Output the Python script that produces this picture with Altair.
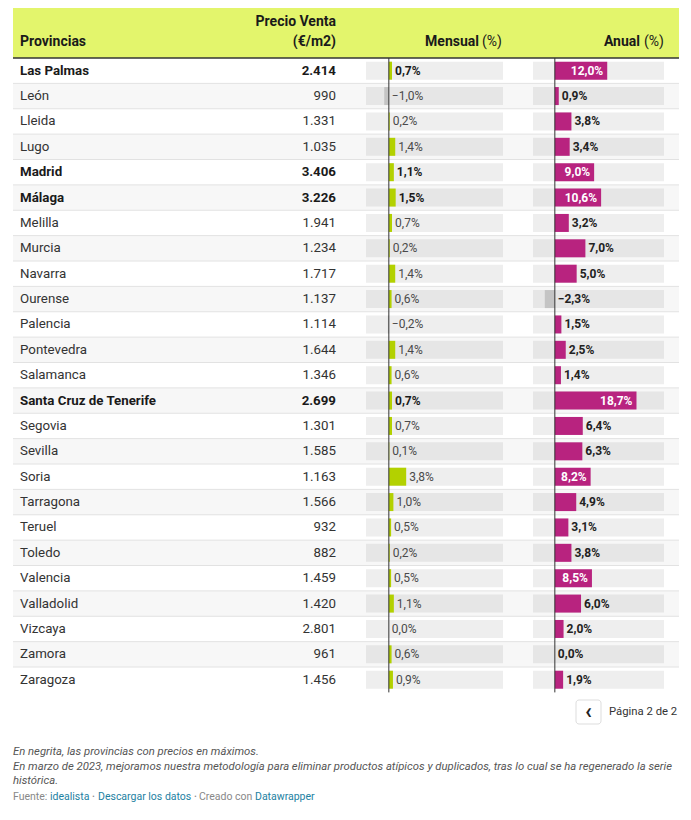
import altair as alt
import pandas as pd

# ---------------- data ----------------
provincias = ["Las Palmas", "León", "Lleida", "Lugo", "Madrid", "Málaga", "Melilla",
              "Murcia", "Navarra", "Ourense", "Palencia", "Pontevedra", "Salamanca",
              "Santa Cruz de Tenerife", "Segovia", "Sevilla", "Soria", "Tarragona",
              "Teruel", "Toledo", "Valencia", "Valladolid", "Vizcaya", "Zamora", "Zaragoza"]
precio = [2414, 990, 1331, 1035, 3406, 3226, 1941, 1234, 1717, 1137, 1114, 1644, 1346,
          2699, 1301, 1585, 1163, 1566, 932, 882, 1459, 1420, 2801, 961, 1456]
mensual = [0.7, -1.0, 0.2, 1.4, 1.1, 1.5, 0.7, 0.2, 1.4, 0.6, -0.2, 1.4, 0.6,
           0.7, 0.7, 0.1, 3.8, 1.0, 0.5, 0.2, 0.5, 1.1, 0.0, 0.6, 0.9]
anual = [12.0, 0.9, 3.8, 3.4, 9.0, 10.6, 3.2, 7.0, 5.0, -2.3, 1.5, 2.5, 1.4,
         18.7, 6.4, 6.3, 8.2, 4.9, 3.1, 3.8, 8.5, 6.0, 2.0, 0.0, 1.9]
en_maximos = ["Las Palmas", "Madrid", "Málaga", "Santa Cruz de Tenerife"]


def fmt_pct(v):
    s = f"{abs(v):.1f}".replace(".", ",")
    return ("\u2212" if v < 0 else "") + s + "%"


def fmt_price(p):
    return f"{p:,}".replace(",", ".")


df = pd.DataFrame({"prov": provincias, "precio": precio, "m": mensual, "a": anual})
df["i"] = range(len(df))
df["bold"] = df["prov"].isin(en_maximos)
df["precio_lab"] = df["precio"].map(fmt_price)
df["m_lab"] = df["m"].map(fmt_pct)
df["a_lab"] = df["a"].map(fmt_pct)
df["m_pos"] = df["m"].clip(lower=0)
df["a_pos"] = df["a"].clip(lower=0)

FONT = "Roboto"
TOP, BOTTOM = 50, 684.4
LEFT, RIGHT = 5, 671
MS = alt.Scale(domain=[-5, 25], range=[358, 495])
AS = alt.Scale(domain=[-5, 25], range=[525, 656])


def Y(**kw):
    return alt.Y("prov:N",
                 scale=alt.Scale(type="band", domain=provincias, range=[TOP, BOTTOM],
                                 paddingInner=0, paddingOuter=0),
                 axis=None, **kw)


base = alt.Chart(df)
one = pd.DataFrame({"z": [0]})


def label(text, x, y, size=12, weight="normal", color="#333333", align="left",
          style="normal", baseline="middle"):
    return alt.Chart(one).mark_text(
        text=text, font=FONT, fontSize=size, fontWeight=weight, color=color,
        align=align, baseline=baseline, fontStyle=style
    ).encode(x=alt.value(x), y=alt.value(y))


layers = []

# header band
layers.append(alt.Chart(one).mark_rect(color="#e3f56c").encode(
    x=alt.value(LEFT), x2=alt.value(RIGHT), y=alt.value(0), y2=alt.value(TOP)))

# row stripes
layers.append(base.transform_filter("datum.i % 2 == 1").mark_rect(color="#f7f7f7").encode(
    x=alt.value(LEFT), x2=alt.value(RIGHT), y=Y()))

# row dividers
layers.append(base.transform_filter("datum.i >= 1").mark_rule(color="#e2e2e2", strokeWidth=1).encode(
    x=alt.value(LEFT), x2=alt.value(RIGHT), y=Y(bandPosition=0)))

# header bottom line
layers.append(alt.Chart(one).mark_rule(color="#333333", strokeWidth=1.5).encode(
    x=alt.value(LEFT), x2=alt.value(RIGHT), y=alt.value(TOP)))

stripe_color = alt.condition("datum.i % 2 == 1", alt.value("#e6e6e6"), alt.value("#eeeeee"))

# tracks
for sc in (MS, AS):
    layers.append(base.transform_calculate(lo="-5", hi="25").mark_bar(size=18).encode(
        x=alt.X("lo:Q", scale=sc, axis=None), x2="hi:Q", y=Y(), color=stripe_color))

# mensual bars
layers.append(base.transform_calculate(zero="0").mark_bar(size=18).encode(
    x=alt.X("m:Q", scale=MS, axis=None), x2="zero:Q", y=Y(),
    color=alt.condition("datum.m < 0", alt.value("#c4c4c4"), alt.value("#b3d100"))))

# anual bars
layers.append(base.transform_calculate(zero="0").mark_bar(size=18).encode(
    x=alt.X("a:Q", scale=AS, axis=None), x2="zero:Q", y=Y(),
    color=alt.condition("datum.a < 0", alt.value("#c4c4c4"), alt.value("#b8237f"))))

# zero lines
for sc in (MS, AS):
    layers.append(alt.Chart(one).mark_rule(color="#333333", strokeWidth=1).encode(
        x=alt.X("z:Q", scale=sc, axis=None), y=alt.value(TOP), y2=alt.value(BOTTOM)))

# text columns
for is_bold in (False, True):
    flt = "datum.bold" if is_bold else "!datum.bold"
    w = "bold" if is_bold else "normal"
    col = "#1a1a1a" if is_bold else "#333333"
    layers.append(base.transform_filter(flt).mark_text(
        font=FONT, fontSize=13.3, fontWeight=w, color=col, align="left", baseline="middle"
    ).encode(x=alt.value(12), y=Y(), text="prov:N"))
    layers.append(base.transform_filter(flt).mark_text(
        font=FONT, fontSize=13.3, fontWeight=w, color=col, align="right", baseline="middle"
    ).encode(x=alt.value(328), y=Y(), text="precio_lab:N"))
    layers.append(base.transform_filter(flt).mark_text(
        font=FONT, fontSize=12, fontWeight=w, color="#1a1a1a" if is_bold else "#4a4a4a",
        align="left", baseline="middle", dx=3
    ).encode(x=alt.X("m_pos:Q", scale=MS, axis=None), y=Y(), text="m_lab:N"))

# anual labels
layers.append(base.transform_filter("datum.a >= 8").mark_text(
    font=FONT, fontSize=12, fontWeight="bold", color="white", align="right",
    baseline="middle", dx=-4
).encode(x=alt.X("a:Q", scale=AS, axis=None), y=Y(), text="a_lab:N"))
layers.append(base.transform_filter("datum.a < 8").mark_text(
    font=FONT, fontSize=12, fontWeight="bold", color="#222222", align="left",
    baseline="middle", dx=3
).encode(x=alt.X("a_pos:Q", scale=AS, axis=None), y=Y(), text="a_lab:N"))

# header texts
layers += [
    label("Provincias", 12, 34, size=14, weight="bold", color="#1a1a1a"),
    label("Precio Venta", 328, 14, size=14, weight="bold", color="#1a1a1a", align="right"),
    label("(€/m2)", 328, 34, size=14, weight="bold", color="#1a1a1a", align="right"),
    label("Mensual", 471, 34, size=14, weight="bold", color="#1a1a1a", align="right"),
    label("(%)", 494, 34, size=14, color="#1a1a1a", align="right"),
    label("Anual", 632, 34, size=14, weight="bold", color="#1a1a1a", align="right"),
    label("(%)", 656, 34, size=14, color="#1a1a1a", align="right"),
]

# pagination
layers.append(alt.Chart(one).mark_rect(fill="white", stroke="#dddddd", strokeWidth=1,
                                       cornerRadius=3).encode(
    x=alt.value(568), x2=alt.value(593), y=alt.value(692), y2=alt.value(716)))
layers.append(label("‹", 580.5, 703, size=22, weight="bold", color="#222222", align="center"))
layers.append(label("Página 2 de 2", 601, 704, size=11.3, color="#333333"))

# notes
NOTE = 11.3
layers += [
    label("En negrita, las provincias con precios en máximos.", 5, 744, size=NOTE,
          color="#555555", style="italic"),
    label("En marzo de 2023, mejoramos nuestra metodología para eliminar productos atípicos y "
          "duplicados, tras lo cual se ha regenerado la serie", 5, 759, size=NOTE,
          color="#555555", style="italic"),
    label("histórica.", 5, 773, size=NOTE, color="#555555", style="italic"),
]

# source line
BLUE = "#1d81a2"
GREY = "#888888"
SRC = 10.5
layers += [
    label("Fuente:", 5, 789, size=SRC, color=GREY),
    label("idealista", 42, 789, size=SRC, color=BLUE),
    label("•", 85.5, 789, size=7, color=GREY, align="center"),
    label("Descargar los datos", 90, 789, size=SRC, color=BLUE),
    label("•", 187.5, 789, size=7, color=GREY, align="center"),
    label("Creado con", 191, 789, size=SRC, color=GREY),
    label("Datawrapper", 247, 789, size=SRC, color=BLUE),
]

chart = alt.layer(*layers).resolve_scale(x="independent").properties(
    width=675, height=800, autosize=alt.AutoSizeParams(type="none"), padding=0
).configure_view(strokeWidth=0)

chart.save("out.html", embed_options={"renderer": "svg", "actions": False})
